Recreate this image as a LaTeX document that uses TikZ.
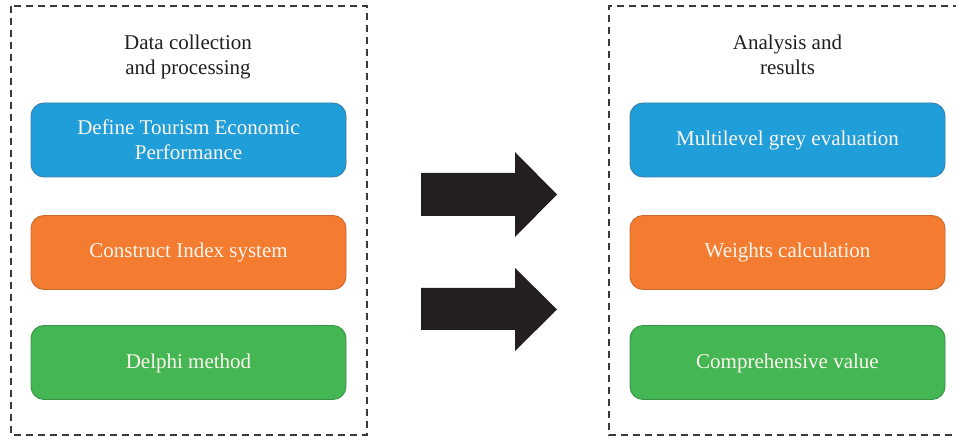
\documentclass[tikz,border=0pt]{standalone}
\usepackage{fontspec}
\setmainfont{Liberation Serif}
\definecolor{dashcol}{HTML}{3A3A3C}
\definecolor{ink}{HTML}{231F20}
\definecolor{bluefill}{HTML}{1F9ED9}
\definecolor{blueedge}{HTML}{3C7FA6}
\definecolor{orangefill}{HTML}{F37C30}
\definecolor{orangeedge}{HTML}{C86A2C}
\definecolor{greenfill}{HTML}{44B653}
\definecolor{greenedge}{HTML}{3A9247}
\definecolor{boxtext}{HTML}{FDF6EE}
\tikzset{
  panel/.style={draw=dashcol, line width=1.1pt, dash pattern=on 7pt off 5pt},
  stepbox/.style={rounded corners=13pt, line width=0.9pt, minimum width=315pt, minimum height=74pt,
    text=boxtext, font=\fontsize{21}{25}\selectfont, align=center, inner sep=0pt},
  onelinetext/.style={text height=15pt, text depth=4pt},
  title/.style={text=ink, font=\fontsize{21}{25}\selectfont, align=center, inner sep=0pt, anchor=base},
  bigarrow/.style={fill=ink, draw=none}
}
\begin{document}
\begin{tikzpicture}[x=1pt, y=-1pt]
\useasboundingbox (0,0) rectangle (956,438);
% panels
\draw[panel] (11,6) rectangle (367,435);
\draw[panel] (960,6) -- (609,6) -- (609,435) -- (960,435);
% titles (base anchor = baseline of last line)
\node[title] (t1) at (188,75) {Data collection\\and processing};
\node[title] (t2) at (787.5,75) {Analysis and\\results};
% left boxes
\node[stepbox, fill=bluefill, draw=blueedge] (l1) at (188.5,140) {Define Tourism Economic\\Performance};
\node[stepbox, onelinetext, fill=orangefill, draw=orangeedge] (l2) at (188.5,252.5) {Construct Index system};
\node[stepbox, onelinetext, fill=greenfill, draw=greenedge] (l3) at (188.5,362.5) {Delphi method};
% right boxes
\node[stepbox, onelinetext, fill=bluefill, draw=blueedge] (r1) at (787.5,140) {Multilevel grey evaluation};
\node[stepbox, onelinetext, fill=orangefill, draw=orangeedge] (r2) at (787.5,252.5) {Weights calculation};
\node[stepbox, onelinetext, fill=greenfill, draw=greenedge] (r3) at (787.5,362.5) {Comprehensive value};
% arrows
\fill[bigarrow] (421,173) -- (515,173) -- (515,152) -- (557,194.5) -- (515,237) -- (515,216) -- (421,216) -- cycle;
\fill[bigarrow] (421,288) -- (515,288) -- (515,268) -- (557,309.5) -- (515,351) -- (515,330) -- (421,330) -- cycle;
\end{tikzpicture}
\end{document}
